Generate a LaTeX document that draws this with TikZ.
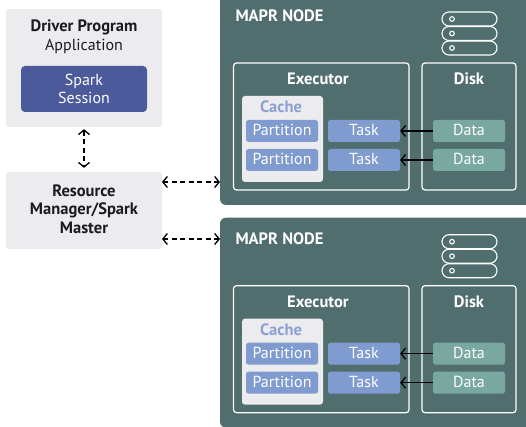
\documentclass[tikz,border=0pt]{standalone}
\usepackage{fontspec}
\setmainfont{PT Sans}
\usetikzlibrary{arrows.meta}
\definecolor{panelgrey}{HTML}{ECECEE}
\definecolor{nodeteal}{HTML}{516E6E}
\definecolor{sessionblue}{HTML}{4B5A9B}
\definecolor{partblue}{HTML}{7F9BCF}
\definecolor{datateal}{HTML}{78A89F}
\definecolor{cachetext}{HTML}{8CA0D6}
\definecolor{inktext}{HTML}{1A1A22}
\tikzset{
  x=1pt,y=-1pt,
  greypanel/.style={fill=panelgrey,rounded corners=3pt},
  maprnode/.style={fill=nodeteal,rounded corners=6pt},
  outlinebox/.style={draw=white,line width=1.2pt,rounded corners=3pt},
  chip/.style={rounded corners=2.5pt,minimum width=72pt,minimum height=22pt,inner sep=0pt,text=white,text height=11pt,text depth=2pt},
  lbl/.style={inner sep=0pt,font=\fontsize{16}{18.5}\selectfont,align=center},
  lblb/.style={inner sep=0pt,align=center,font=\fontsize{16.5}{18.5}\selectfont\bfseries},
  dashlink/.style={draw=black,line width=1.3pt,dash pattern=on 5pt off 3.5pt,{Straight Barb[length=4.5pt,width=11pt,line width=1.3pt]}-{Straight Barb[length=4.5pt,width=11pt,line width=1.3pt]}},
  readlink/.style={draw=black,line width=1.3pt,-{Straight Barb[length=4.5pt,width=11pt,line width=1.3pt]}},
  pill/.style={draw=white,line width=1.1pt,rounded corners=7pt},
  dot/.style={draw=white,line width=1.1pt}
}
\newcommand{\mapr}[2]{%
  \begin{scope}[yshift=-#1pt]
    \fill[maprnode] (220,-5) rectangle (540,205);
    \node[lblb,text=white] (#2title) at (279.5,16) {MAPR NODE};
    \foreach \py/\pn in {12/a,26.5/b,41/c}{
      \draw[pill] (442,\py) rectangle (497,\py+14);
      \draw[dot] (452,\py+7) circle (2.3);
    }
    \draw[outlinebox] (233.5,63) rectangle (409,190);
    \draw[outlinebox] (422,63) rectangle (516,190);
    \node[lblb,text=white] (#2exec) at (318,79) {Executor};
    \node[lblb,text=white] (#2disk) at (469,79) {Disk};
    \fill[panelgrey,rounded corners=3pt] (242,96) rectangle (323,182);
    \node[lblb,text=cachetext] (#2cache) at (281,107) {Cache};
    \foreach \ty/\tn in {120/a,149/b}{
      \node[lbl,chip,fill=partblue] (#2part\tn) at (282,\ty+11) {Partition};
      \node[lbl,chip,fill=partblue] (#2task\tn) at (364,\ty+11) {Task};
      \node[lbl,chip,fill=datateal] (#2data\tn) at (469,\ty+11) {Data};
      \draw[readlink] (#2data\tn) -- (#2task\tn);
    }
  \end{scope}}
\begin{document}
\begin{tikzpicture}
\useasboundingbox (0,0) rectangle (526,427);
\clip (0,0) rectangle (526,427);
\fill[white] (0,0) rectangle (526,427);
\mapr{0}{n}
\mapr{222.7}{m}
\node[greypanel,minimum width=156pt,minimum height=118pt,inner sep=0pt] (driver) at (84,68) {};
\node[lblb,text=inktext] (drivertitle) at (84,27) {Driver Program};
\node[lbl,text=inktext] (driverapp) at (84,46) {Application};
\node[fill=sessionblue,rounded corners=4pt,minimum width=126pt,minimum height=46pt,inner sep=0pt,text=white,lbl] (session) at (84,89) {Spark\\Session};
\node[greypanel,minimum width=156pt,minimum height=77pt,inner sep=0pt] (rm) at (84,210.5) {};
\node[lblb,text=inktext] (rmtext) at (84,209) {Resource\\Manager/Spark\\Master};
\draw[dashlink,shorten >=4pt,shorten <=2pt] (driver.south) -- (rm.north);
\coordinate (rmtop) at (162,182);
\coordinate (nodetop) at (220,182);
\coordinate (rmbot) at (162,239);
\coordinate (nodebot) at (220,239);
\draw[dashlink] (rmtop) -- (nodetop);
\draw[dashlink] (rmbot) -- (nodebot);
\end{tikzpicture}
\end{document}
